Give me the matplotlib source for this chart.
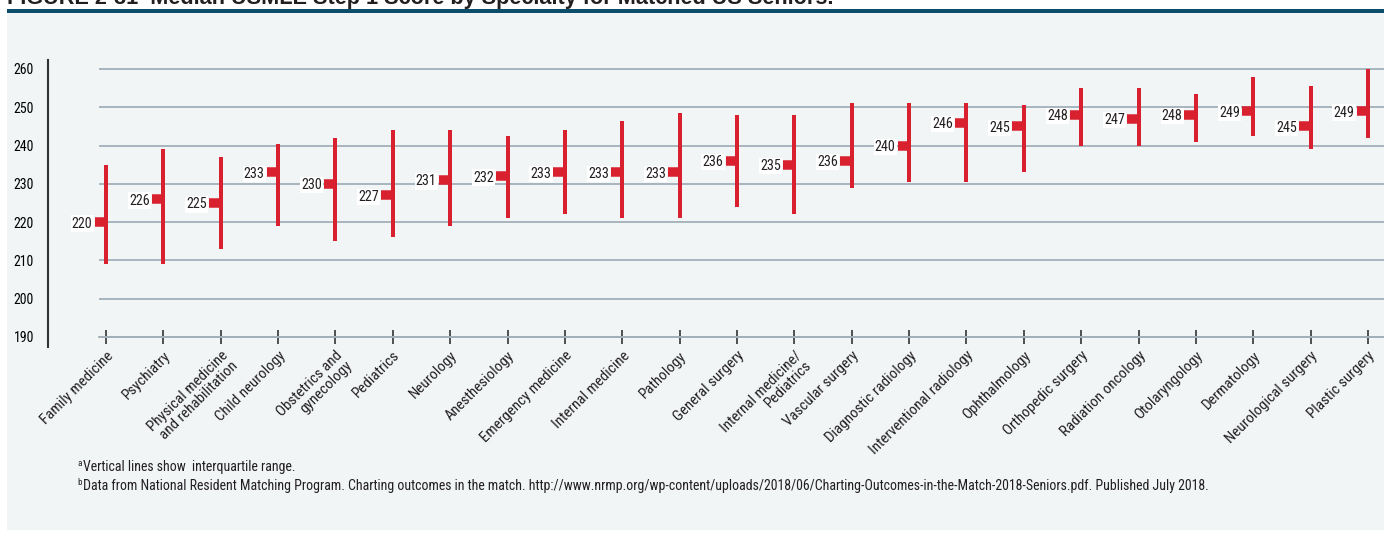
import matplotlib
matplotlib.use("Agg")
import matplotlib.pyplot as plt
from matplotlib.patches import Rectangle
import matplotlib.font_manager as fm
import numpy as np

# ---------------- data ----------------
specialties = [
    "Family medicine", "Psychiatry", "Physical medicine\nand rehabilitation",
    "Child neurology", "Obstetrics and\ngynecology", "Pediatrics", "Neurology",
    "Anesthesiology", "Emergency medicine", "Internal medicine", "Pathology",
    "General surgery", "Internal medicine/\nPediatrics", "Vascular surgery",
    "Diagnostic radiology", "Interventional radiology", "Ophthalmology",
    "Orthopedic surgery", "Radiation oncology", "Otolaryngology",
    "Dermatology", "Neurological surgery", "Plastic surgery",
]
median = [220, 226, 225, 233, 230, 227, 231, 232, 233, 233, 233,
          236, 235, 236, 240, 246, 245, 248, 247, 248, 249, 245, 249]
q1 = [209, 209, 213, 219, 215, 216, 219, 221, 222, 221, 221,
      224, 222, 229, 230.5, 230.5, 233, 240, 240, 241, 242.5, 239, 242]
q3 = [235, 239, 237, 240.5, 242, 244, 244, 242.5, 244, 246.5, 248.5,
      248, 248, 251, 251, 251, 250.5, 255, 255, 253.5, 258, 255.5, 260]
yticks = [190, 200, 210, 220, 230, 240, 250, 260]

title = "FIGURE 2-31  Median USMLE Step 1 Score by Specialty for Matched US Seniors."
foot_a = "Vertical lines show  interquartile range."
foot_b = ("Data from National Resident Matching Program. Charting outcomes in the match. "
          "http://www.nrmp.org/wp-content/uploads/2018/06/Charting-Outcomes-in-the-Match-2018-Seniors.pdf. "
          "Published July 2018.")

# ---------------- style ----------------
W, H = 1384, 533
RED = "#d8202f"
TXT = "#231f20"
GRID = "#a3b0ba"
PANEL = "#f1f5f6"

avail = {f.name for f in fm.fontManager.ttflist}
narrow_first = None
for cand in ["Liberation Sans Narrow", "Roboto Condensed", "Open Sans Condensed",
             "Noto Sans Condensed", "Roboto"]:
    if cand in avail:
        narrow_first = cand
        break
NARROW = [narrow_first or "Liberation Sans", "DejaVu Sans"]
plt.rcParams["font.family"] = NARROW

fig = plt.figure(figsize=(W / 100, H / 100), dpi=100)
fig.patch.set_facecolor("white")

def fx(px):
    return px / W

def fy(py):
    return 1 - py / H

# panel and top rule
fig.patches.append(Rectangle((fx(7), fy(530)), (W - 7) / W, (530 - 12) / H,
                             transform=fig.transFigure, facecolor=PANEL,
                             edgecolor="none", zorder=-10))
fig.patches.append(Rectangle((fx(7), fy(12.5)), (W - 7) / W, 3 / H,
                             transform=fig.transFigure, facecolor="#0c4d6b",
                             edgecolor="none", zorder=-9))

# axes geometry
pxu = (337 - 69) / 70.0          # pixels per score unit
step = (1368 - 106) / 22.0       # pixels per category
ax = fig.add_axes([fx(99), fy(347), (W - 99) / W, (347 - 60) / H])
ax.set_zorder(2)
ax.set_facecolor("none")
ax.set_ylim(190 - 10 / pxu, 260 + 9 / pxu)
ax.set_xlim(-(106 - 99) / step, 22 + (W - 1368) / step)

x = np.arange(len(specialties))

ax.set_yticks(yticks)
ax.set_yticklabels([str(v) for v in yticks], fontsize=12.5, color=TXT)
ax.yaxis.grid(True, color=GRID, lw=1.3)
ax.set_axisbelow(True)
ax.tick_params(axis="y", length=0, pad=10)

for s in ("top", "right"):
    ax.spines[s].set_visible(False)
ax.spines["left"].set_position(("outward", 51 * 0.72))
ax.spines["left"].set_color("#333333")
ax.spines["left"].set_linewidth(1.5)
ax.spines["bottom"].set_position(("data", 190))
ax.spines["bottom"].set_color(GRID)
ax.spines["bottom"].set_linewidth(1.3)

ax.set_xticks(x)
ax.set_xticklabels(specialties, fontsize=10.8, color=TXT, linespacing=1.0)
ax.tick_params(axis="x", direction="inout", length=9.5, width=1.2,
               color="#333333", pad=3.5)
for lab in ax.get_xticklabels():
    lab.set_rotation(45)
    lab.set_ha("right")
    lab.set_rotation_mode("anchor")

# IQR lines
ax.vlines(x, q1, q3, color=RED, lw=4 * 0.72, capstyle="butt", zorder=3,
          clip_on=False)
# median markers
mw = 11.5 / step
ax.hlines(median, x - mw, x, color=RED, lw=9.5 * 0.72, capstyle="butt",
          zorder=3, clip_on=False)
for xi, m in zip(x, median):
    ax.annotate(str(m), (xi, m), xytext=(-13.5 * 0.72, -1.0),
                textcoords="offset points", ha="right", va="center",
                fontsize=10.2, color=TXT, zorder=4,
                bbox=dict(boxstyle="square,pad=0.08", fc="white", ec="none"))

# title (cropped at top of the image, as in the source)
renderer = fig.canvas.get_renderer()
t = fig.text(fx(7), fy(4), title, ha="left", va="baseline", fontsize=13,
             fontweight="bold", color=TXT, family=["Liberation Sans", "DejaVu Sans"])
w = t.get_window_extent(renderer).width
t.set_fontsize(13 * (830 - 7) / w)

# footnotes
FOOT = NARROW
fb = fig.text(fx(83), fy(490), foot_b, ha="left", va="baseline", fontsize=9,
              color=TXT, family=FOOT)
w = fb.get_window_extent(renderer).width
fs = 9 * (1212 - 83) / w
fb.set_fontsize(fs)
fa = fig.text(fx(83), fy(471), foot_a, ha="left", va="baseline", fontsize=fs,
              color=TXT, family=FOOT)
fig.text(fx(77), fy(466), "a", ha="left", va="baseline", fontsize=fs * 0.65,
         color=TXT, family=FOOT)
fig.text(fx(77), fy(485), "b", ha="left", va="baseline", fontsize=fs * 0.65,
         color=TXT, family=FOOT)

fig.savefig("out.png", dpi=100, facecolor="white")
